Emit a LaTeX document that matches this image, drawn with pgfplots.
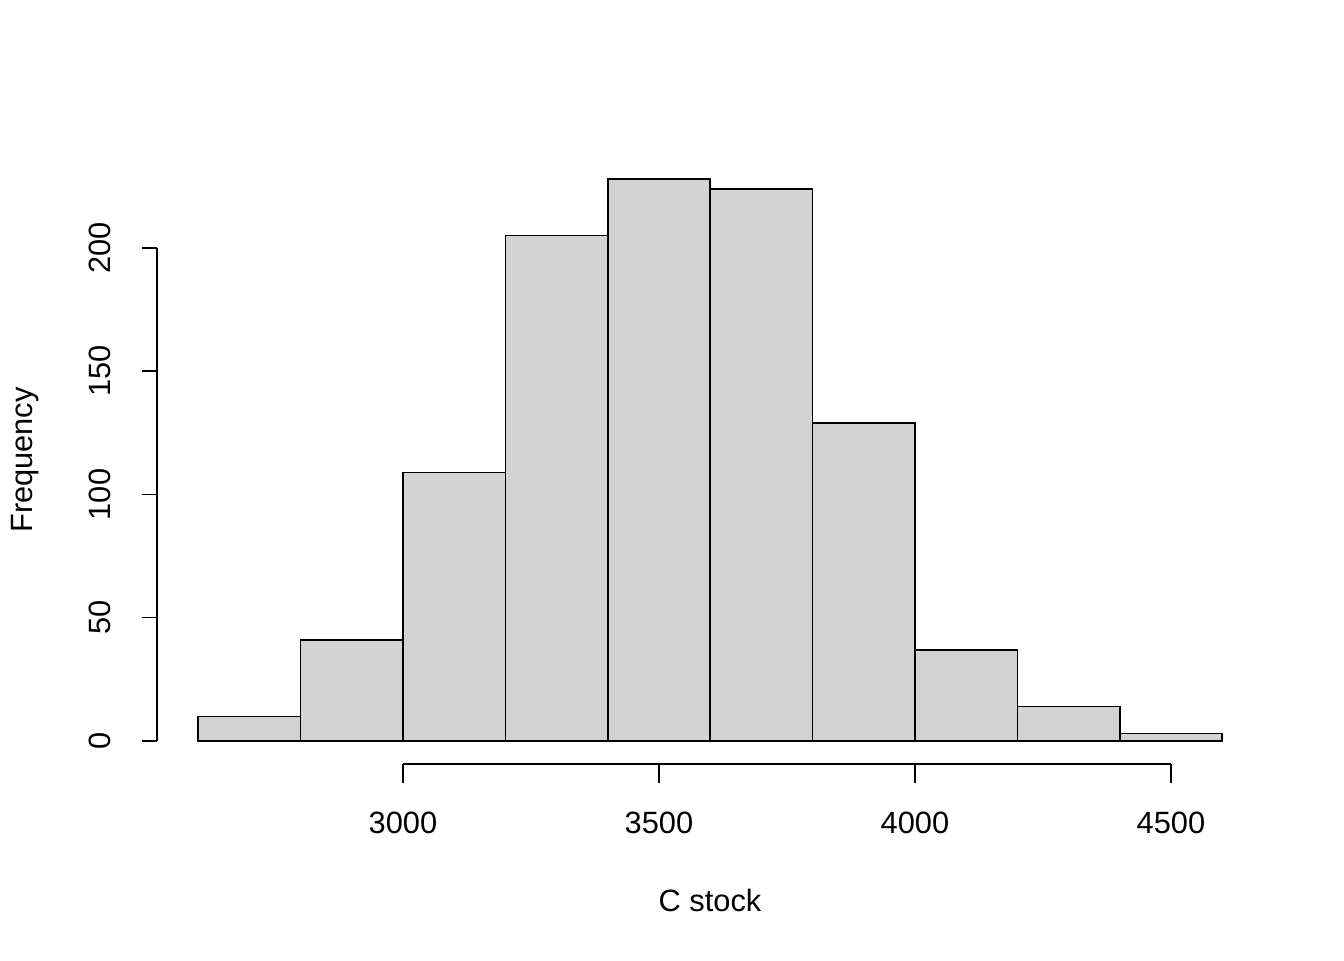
\documentclass[border=0pt]{standalone}
\usepackage{pgfplots}
\pgfplotsset{compat=1.18}
\usepackage{fontspec}
\setmainfont{Liberation Sans}
\definecolor{rgray}{HTML}{D3D3D3}
\begin{document}
\fontsize{15.4}{18}\selectfont
\begin{tikzpicture}
\begin{axis}[scale only axis, width=672pt, height=480pt,
  xmin=2212.9, xmax=4837.9, ymin=-88.84, ymax=300.6,
  axis lines=none, clip=false]
\path (axis cs:2212.9,-88.84) rectangle (axis cs:4837.9,300.6);
\addplot[ybar interval, fill=rgray, draw=black, line width=0.75pt] coordinates {
(2600,10) (2800,41) (3000,109) (3200,205) (3400,228) (3600,224) (3800,129) (4000,37) (4200,14) (4400,3) (4600,3)};
% y axis
\draw[line width=0.75pt] (axis cs:2519.5,0) -- (axis cs:2519.5,200);
\pgfplotsinvokeforeach{0,50,100,150,200}{
  \draw[line width=0.75pt] (axis cs:2519.5,#1) -- (axis cs:2490.2,#1);
  \node[rotate=90] at (axis cs:2408.2,#1) {#1};
}
% x axis
\draw[line width=0.75pt] (axis cs:3000,-9.33) -- (axis cs:4500,-9.33);
\pgfplotsinvokeforeach{3000,3500,4000,4500}{
  \draw[line width=0.75pt] (axis cs:#1,-9.33) -- (axis cs:#1,-17.04);
  \node at (axis cs:#1,-33.3) {#1};
}
\node at (axis cs:3599.6,-64.5) {C stock};
\node[rotate=90] at (axis cs:2261.7,114) {Frequency};
\end{axis}
\end{tikzpicture}
\end{document}
